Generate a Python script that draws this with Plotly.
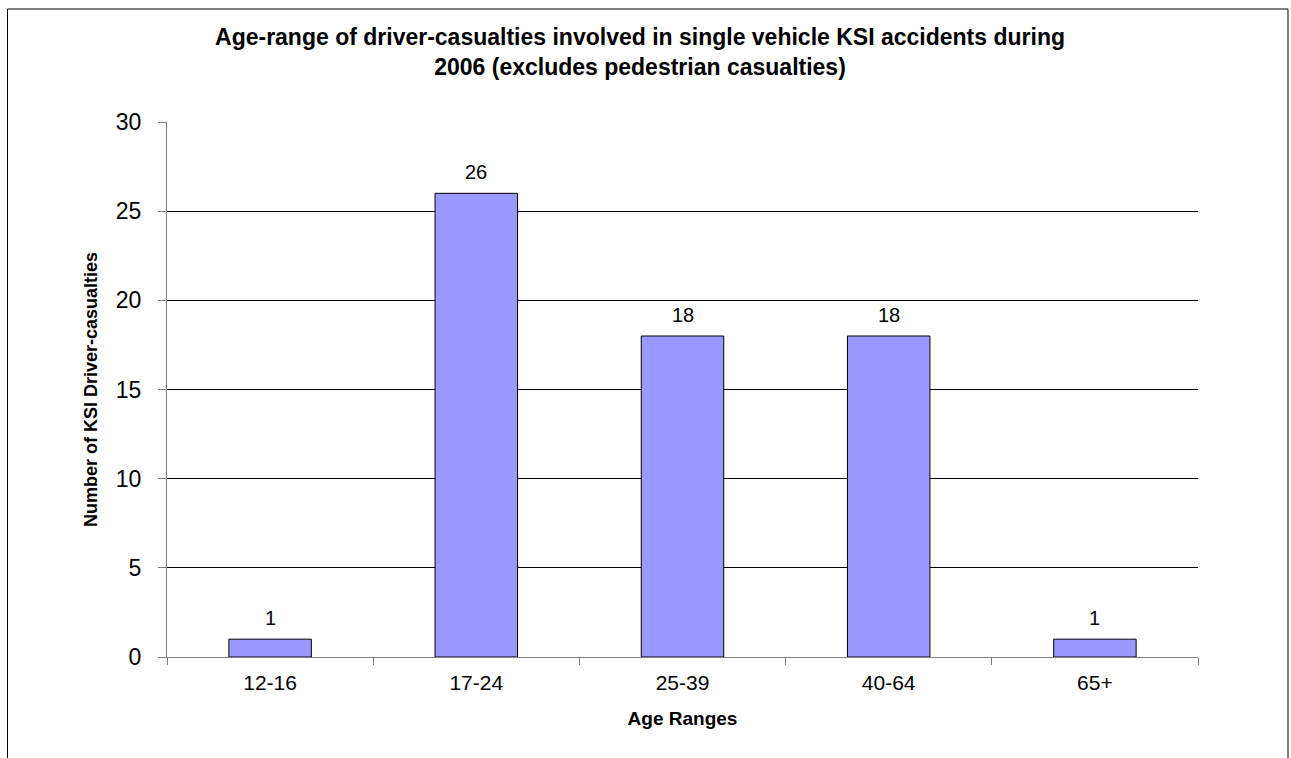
import plotly.graph_objects as go

categories = ["12-16", "17-24", "25-39", "40-64", "65+"]
values = [1, 26, 18, 18, 1]
y_ticks = [0, 5, 10, 15, 20, 25, 30]

title_text = ("Age-range of driver-casualties involved in single vehicle KSI accidents during"
              "<br>2006 (excludes pedestrian casualties)")

W, H = 1291, 758
L, R, T, B = 167, 1198, 122, 657

FONT = "Liberation Sans, Arial, sans-serif"

fig = go.Figure(go.Bar(
    x=categories, y=values, width=0.4,
    marker=dict(color="#9999FF", line=dict(color="black", width=1)),
    cliponaxis=False,
))

for c, v in zip(categories, values):
    fig.add_annotation(x=c, y=v, text=str(v), showarrow=False, yanchor="bottom",
                       yshift=8, font=dict(family=FONT, size=20, color="black"))

pw, ph = R - L, B - T
def px_x(p):
    return (p - L) / pw
def px_y(p):
    return (B - p) / ph

fig.add_shape(type="rect", xref="paper", yref="paper",
              x0=px_x(7.5), x1=px_x(1288), y0=px_y(800), y1=px_y(9),
              line=dict(color="black", width=1), fillcolor="rgba(0,0,0,0)", layer="below")

fig.update_layout(
    width=W, height=H,
    margin=dict(l=L, r=W - R, t=T, b=H - B, autoexpand=False),
    paper_bgcolor="white", plot_bgcolor="white",
    showlegend=False,
    font=dict(family=FONT, color="black"),
    title=dict(text="<b>" + title_text + "</b>", x=640 / W, xanchor="center",
               y=1 - 45 / H, yanchor="top", yref="container",
               font=dict(family=FONT, size=23, color="black")),
    xaxis=dict(
        type="category", range=[-0.5, 4.5], tickson="boundaries",
        ticks="outside", ticklen=7, tickcolor="#808080", tickwidth=1,
        showline=True, linecolor="#808080", linewidth=1,
        showgrid=False, zeroline=False,
        tickfont=dict(family=FONT, size=21, color="black"),
        ticklabelstandoff=7,
        title=dict(text="<b>Age Ranges</b>", font=dict(family=FONT, size=19, color="black"), standoff=18),
    ),
    yaxis=dict(
        range=[0, 30], tickvals=y_ticks,
        ticks="outside", ticklen=8, tickcolor="#808080", tickwidth=1,
        showline=True, linecolor="#808080", linewidth=1,
        showgrid=True, gridcolor="#000000", gridwidth=1,
        zeroline=False,
        tickfont=dict(family=FONT, size=23, color="black"),
        ticklabelstandoff=12,
        title=dict(text="<b>Number of KSI Driver-casualties</b>", font=dict(family=FONT, size=18, color="black"), standoff=13),
    ),
    bargap=0.6,
)

fig.write_html("out.html")
